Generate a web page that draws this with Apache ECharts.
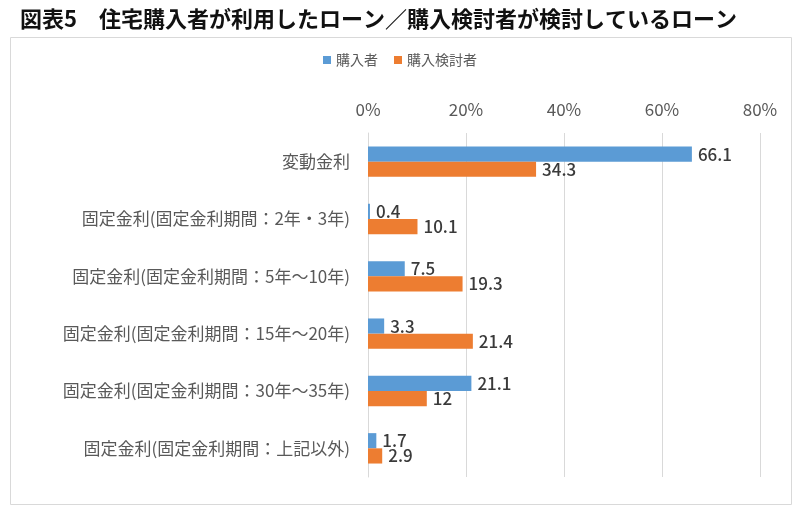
<!DOCTYPE html>
<html><head><meta charset="utf-8">
<script src="https://cdn.jsdelivr.net/npm/echarts@6/dist/echarts.min.js"></script>
<style>html,body{margin:0;padding:0;background:#fff}#c{width:800px;height:520px}</style>
</head><body><div id="c"></div>
<script>
const categories = ['変動金利','固定金利(固定金利期間：2年・3年)','固定金利(固定金利期間：5年～10年)','固定金利(固定金利期間：15年～20年)','固定金利(固定金利期間：30年～35年)','固定金利(固定金利期間：上記以外)'];
const buyers = [66.1, 0.4, 7.5, 3.3, 21.1, 1.7];
const considering = [34.3, 10.1, 19.3, 21.4, 12, 2.9];
const seriesNames = ['購入者','購入検討者'];
const FONT = '"Noto Sans CJK JP", sans-serif';
const chart = echarts.init(document.getElementById('c'));
const lbl = {show:true, position:'right', distance:6, color:'#3a3a3a', fontSize:17, fontFamily:FONT, fontWeight:500};
chart.setOption({
  animation:false,
  textStyle:{fontFamily:FONT},
  title:{text:'図表5　住宅購入者が利用したローン／購入検討者が検討しているローン', left:15, top:3,
    textStyle:{fontSize:22, fontWeight:'bold', color:'#111', fontFamily:FONT}},
  graphic:[{type:'rect', shape:{x:10.5,y:37.5,width:781,height:467}, style:{fill:'none', stroke:'#d9d9d9', lineWidth:1}, silent:true}],
  legend:{data:seriesNames, top:48, left:'center', itemWidth:8, itemHeight:8, itemGap:16,
    textStyle:{color:'#595959', fontSize:14, fontFamily:FONT}, icon:'rect'},
  grid:{left:368, right:40, top:133, bottom:43, containLabel:false},
  xAxis:{type:'value', position:'top', min:0, max:80, interval:20,
    axisLabel:{formatter:'{value}%', color:'#595959', fontSize:17, margin:15, fontFamily:FONT},
    axisLine:{show:false}, axisTick:{show:false},
    splitLine:{lineStyle:{color:'#d9d9d9'}}},
  yAxis:{type:'category', data:categories, inverse:true,
    axisLabel:{color:'#595959', fontSize:17, margin:18, fontFamily:FONT},
    axisLine:{show:true, lineStyle:{color:'#d9d9d9'}}, axisTick:{show:false}},
  series:[
    {name:seriesNames[0], type:'bar', data:buyers, itemStyle:{color:'#5b9bd5'}, barGap:'0%', barCategoryGap:'47%', label:lbl},
    {name:seriesNames[1], type:'bar', data:considering, itemStyle:{color:'#ed7d31'}, label:lbl}
  ]
});
</script></body></html>
